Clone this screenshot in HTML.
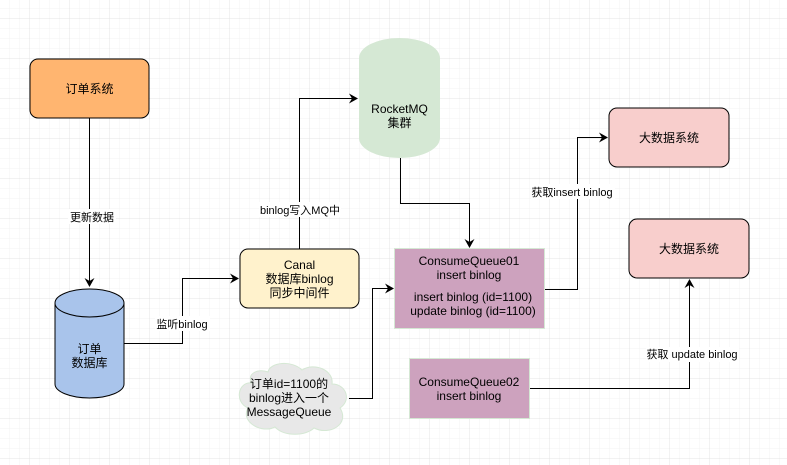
<!DOCTYPE html>
<html><head><meta charset="utf-8"><style>
html,body{margin:0;padding:0;background:#fff;}
svg{display:block;}
text{font-family:"Liberation Sans","Noto Sans CJK SC",sans-serif;font-size:12px;fill:#000;}
.l{font-size:11px;}
</style></head><body>
<svg width="787" height="465" viewBox="0 0 787 465" xmlns="http://www.w3.org/2000/svg">
<defs>
<pattern id="minor" x="-0.5" y="-1.5" width="10" height="10" patternUnits="userSpaceOnUse">
<path d="M10 0V10M0 10H10" stroke="#f3f3f3" stroke-width="1" fill="none"/>
</pattern>
<pattern id="major" x="-10.5" y="-21.5" width="40" height="40" patternUnits="userSpaceOnUse">
<path d="M40 0V40M0 40H40" stroke="#e4e4e4" stroke-width="1" fill="none"/>
</pattern>
<marker id="a" markerWidth="10" markerHeight="10" refX="8" refY="5" orient="auto" markerUnits="userSpaceOnUse">
<path d="M0,0 L9,5 L0,10 L3,5 Z" fill="#000"/>
</marker>
</defs>
<rect width="787" height="465" fill="url(#minor)"/>
<rect width="787" height="465" fill="url(#major)"/>

<!-- edges -->
<g stroke="#000" fill="none" stroke-width="1">
<path d="M89.5 118V286" marker-end="url(#a)"/>
<path d="M124 343.5H182.5V278.5H238" marker-end="url(#a)"/>
<path d="M299.5 249V98.5H357" marker-end="url(#a)"/>
<path d="M400.5 158V203.5H469.5V247" marker-end="url(#a)"/>
<path d="M545 289.5H577.5V137.5H607" marker-end="url(#a)"/>
<path d="M530 388.5H689.5V280" marker-end="url(#a)"/>
<path d="M349 398.5H372.5V288.5H393" marker-end="url(#a)"/>
</g>

<!-- edge labels -->
<rect x="68" y="209" width="48" height="15" fill="#fff"/>
<text class="l" x="92" y="221" text-anchor="middle">更新数据</text>
<rect x="155" y="316" width="55" height="15" fill="#fff"/>
<text class="l" x="182" y="328" text-anchor="middle">监听binlog</text>
<rect x="259" y="202" width="82" height="15" fill="#fff"/>
<text class="l" x="300" y="214" text-anchor="middle">binlog写入MQ中</text>
<rect x="531" y="184" width="84" height="15" fill="#fff"/>
<text class="l" x="572" y="196" text-anchor="middle">获取insert binlog</text>
<rect x="646" y="347" width="93" height="15" fill="#fff"/>
<text class="l" x="692" y="358" text-anchor="middle">获取 update binlog</text>

<!-- 订单系统 -->
<rect x="30" y="59" width="119" height="59" rx="8" fill="#FFB570" stroke="#000"/>
<text x="89.5" y="93" text-anchor="middle">订单系统</text>

<!-- DB cylinder -->
<path d="M55 303 A34.5 14 0 0 1 124 303 V384 A34.5 14 0 0 1 55 384 Z" fill="#A9C4EB" stroke="#000"/>
<path d="M55 303 A34.5 14 0 0 0 124 303" fill="none" stroke="#000"/>
<text x="89.5" y="353" text-anchor="middle">订单</text>
<text x="89.5" y="367" text-anchor="middle">数据库</text>

<!-- Canal -->
<rect x="240" y="249" width="119" height="59" rx="8" fill="#FFF2CC" stroke="#000"/>
<text x="299.5" y="269" text-anchor="middle">Canal</text>
<text x="299.5" y="283" text-anchor="middle">数据库binlog</text>
<text x="299.5" y="297" text-anchor="middle">同步中间件</text>

<!-- RocketMQ -->
<path d="M359 58 A40.5 20 0 0 1 440 58 V138 A40.5 20 0 0 1 359 138 Z" fill="#D5E8D4"/>
<text x="399.5" y="113" text-anchor="middle">RocketMQ</text>
<text x="399.5" y="127" text-anchor="middle">集群</text>

<!-- CQ01 -->
<rect x="394.5" y="248.5" width="150" height="80" fill="#CDA2BE" stroke="#D5E8D4"/>
<text x="469" y="265" text-anchor="middle">ConsumeQueue01</text>
<text x="469" y="279" text-anchor="middle">insert binlog</text>
<text x="473" y="301" text-anchor="middle">insert binlog (id=1100)</text>
<text x="473" y="315" text-anchor="middle">update binlog (id=1100)</text>

<!-- CQ02 -->
<rect x="409.5" y="358.5" width="120" height="60" fill="#CDA2BE" stroke="#D5E8D4"/>
<text x="469" y="386" text-anchor="middle">ConsumeQueue02</text>
<text x="469" y="400" text-anchor="middle">insert binlog</text>

<!-- 大数据系统 -->
<rect x="609" y="108" width="120" height="59" rx="8" fill="#F8CECC" stroke="#000"/>
<text x="669" y="142" text-anchor="middle">大数据系统</text>
<rect x="629" y="219" width="120" height="59" rx="8" fill="#F8CECC" stroke="#000"/>
<text x="689" y="253" text-anchor="middle">大数据系统</text>

<!-- cloud -->
<path d="M252 383 C238 381 234 402 248 408 C240 422 262 434 275 427 C284 437 306 436 314 428 C330 436 350 424 340 408 C352 400 346 384 332 384 C334 370 314 362 302 370 C292 360 270 362 268 372 C258 368 246 374 252 383 Z" fill="#E8E8E8" stroke="#D5E8D4"/>
<text x="289" y="388" text-anchor="middle" fill="#1a1a40">订单id=1100的</text>
<text x="289" y="402" text-anchor="middle" fill="#1a1a40">binlog进入一个</text>
<text x="289" y="416" text-anchor="middle" fill="#1a1a40">MessageQueue</text>
</svg>
</body></html>
